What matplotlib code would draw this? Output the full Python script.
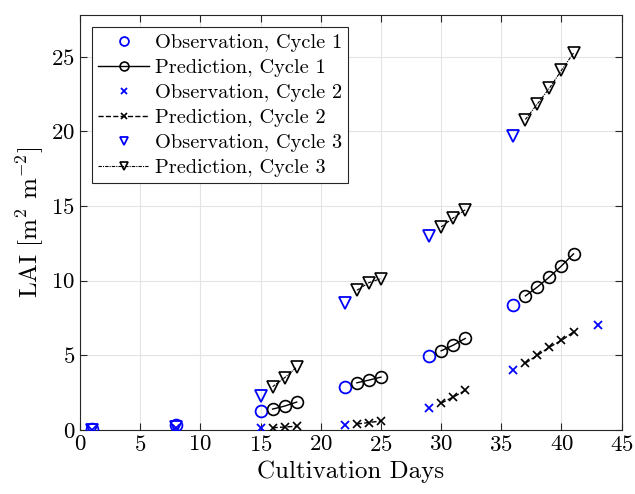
import matplotlib
matplotlib.use("Agg")
import matplotlib.pyplot as plt
import numpy as np

plt.rcParams['font.family'] = 'serif'
plt.rcParams['font.serif'] = ['cmr10']
plt.rcParams['mathtext.fontset'] = 'cm'
plt.rcParams['axes.formatter.use_mathtext'] = True

# observation days
obs_days = [1, 8, 15, 22, 29, 36]
obs_days_c2 = [1, 8, 15, 22, 29, 36, 43]

obs_c1 = [0.05, 0.35, 1.27, 2.86, 4.98, 8.37]
obs_c2 = [0.0, 0.1, 0.1, 0.35, 1.47, 4.0, 7.0]
obs_c3 = [0.0, 0.2, 2.3, 8.5, 13.0, 19.7]

# prediction segments (days, values)
pred_days = [[16, 17, 18], [23, 24, 25], [30, 31, 32], [37, 38, 39, 40, 41]]
pred_c1 = [[1.4, 1.6, 1.87], [3.16, 3.34, 3.54], [5.3, 5.68, 6.13],
           [8.98, 9.58, 10.25, 10.99, 11.8]]
pred_c2 = [[0.15, 0.2, 0.25], [0.4, 0.5, 0.6], [1.8, 2.2, 2.65],
           [4.48, 5.0, 5.55, 6.0, 6.57]]
pred_c3 = [[2.9, 3.5, 4.2], [9.36, 9.87, 10.14], [13.6, 14.2, 14.75],
           [20.8, 21.85, 22.9, 24.1, 25.25]]

fig = plt.figure(figsize=(6.35, 4.94), dpi=100)
ax = fig.add_axes([0.126, 0.1296, 0.853, 0.84])

blue = '#0000ff'
ms = 8.5

ax.plot(obs_days, obs_c1, 'o', color=blue, mfc='none', ms=ms, mew=1.3,
        label='Observation, Cycle 1', zorder=3)
for i, (d, v) in enumerate(zip(pred_days, pred_c1)):
    ax.plot(d, v, '-o', color='k', mfc='none', ms=ms, mew=1.2, lw=1.0,
            label='Prediction, Cycle 1' if i == 0 else None, zorder=3)
ax.plot(obs_days_c2, obs_c2, 'x', color=blue, ms=6, mew=1.3,
        label='Observation, Cycle 2', zorder=3)
for i, (d, v) in enumerate(zip(pred_days, pred_c2)):
    ax.plot(d, v, '--x', color='k', ms=6, mew=1.2, lw=1.0,
            label='Prediction, Cycle 2' if i == 0 else None, zorder=3)
ax.plot(obs_days, obs_c3, 'v', color=blue, mfc='none', ms=ms, mew=1.3,
        label='Observation, Cycle 3', zorder=3)
for i, (d, v) in enumerate(zip(pred_days, pred_c3)):
    ax.plot(d, v, linestyle=(0, (3, 1, 1, 1)), marker='v', color='k',
            mfc='none', ms=ms, mew=1.2, lw=0.8,
            label='Prediction, Cycle 3' if i == 0 else None, zorder=3)

ax.set_xlim(0, 45)
ax.set_ylim(0, 27.8)
ax.set_xticks(np.arange(0, 46, 5))
ax.set_yticks(np.arange(0, 26, 5))
ax.grid(True, color='#e3e3e3', lw=0.8)
ax.set_axisbelow(True)
ax.tick_params(direction='in', top=True, right=True, labelsize=16.5,
               length=5, width=0.8, color='#262626')
for s in ax.spines.values():
    s.set_color('#262626')
    s.set_linewidth(0.8)

ax.set_xlabel('Cultivation Days', fontsize=18)
ax.set_ylabel(r'LAI [m$^2$ m$^{-2}$]', fontsize=18)

leg = ax.legend(loc='upper left', fontsize=14.7, frameon=True, fancybox=False,
                edgecolor='#262626', framealpha=1, borderpad=0.3,
                labelspacing=0.33, handlelength=2.5, handletextpad=0.25,
                borderaxespad=0.6, markerscale=0.75)
leg.get_frame().set_linewidth(0.8)

fig.savefig('out.png', dpi=100)
